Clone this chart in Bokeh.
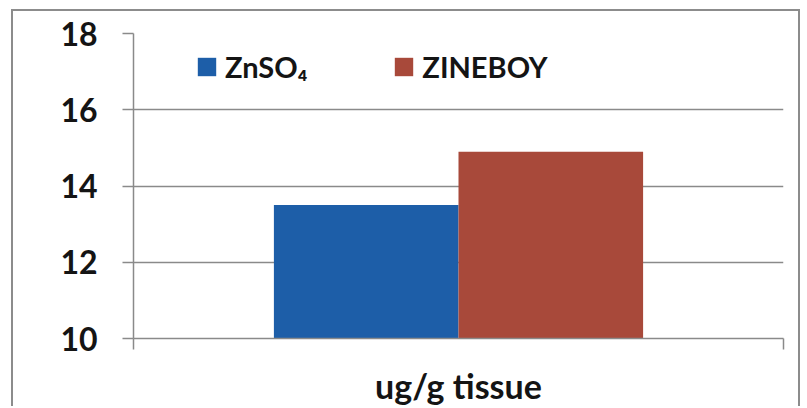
from bokeh.plotting import figure
from bokeh.models import (FactorRange, Range1d, LinearAxis, CategoricalAxis, FixedTicker,
                          Legend, LegendItem, ColumnDataSource, Grid)
from bokeh.transform import dodge
from bokeh.embed import file_html
from bokeh.resources import INLINE

categories = ["ug/g tissue"]
series = ["ZnSO₄", "ZINEBOY"]
znso4 = [13.5]
zineboy = [14.9]
y_ticks = [10, 12, 14, 16, 18]

FONT = "Lato"
TEXT = "#141414"
GRID = "#8a8a8a"
COLORS = ["#1d5ea8", "#a8493a"]

p = figure(width=789, height=397,
           x_range=FactorRange(factors=categories),
           y_range=Range1d(10, 18),
           output_backend="svg", toolbar_location=None,
           x_axis_location=None, y_axis_location=None,
           min_border_left=120, min_border_right=19,
           min_border_top=22, min_border_bottom=70,
           background_fill_color="white", border_fill_color="white")
p.outline_line_color = None
p.margin = (9, 0, 0, 11)
p.styles = {"border-left": "2px solid #8c8c8c", "border-top": "2px solid #8c8c8c",
            "border-right": "2px solid #8c8c8c"}
p.center = [r for r in p.center if not isinstance(r, Grid)]

src = ColumnDataSource(dict(cat=categories, zn=znso4, zb=zineboy))
r1 = p.vbar(x=dodge("cat", -0.142, range=p.x_range), top="zn", width=0.284,
            source=src, fill_color=COLORS[0], line_color=None)
r2 = p.vbar(x=dodge("cat", 0.142, range=p.x_range), top="zb", width=0.284,
            source=src, fill_color=COLORS[1], line_color=None)

yaxis = LinearAxis(ticker=FixedTicker(ticks=y_ticks),
                   major_tick_out=11, major_tick_in=0,
                   minor_tick_line_color=None,
                   axis_line_color=GRID, axis_line_width=1.5,
                   major_tick_line_color=GRID, major_tick_line_width=1.5,
                   major_label_standoff=25,
                   major_label_text_font=FONT, major_label_text_font_style="bold",
                   major_label_text_font_size="32px", major_label_text_color=TEXT)
p.add_layout(yaxis, "left")
p.add_layout(Grid(dimension=1, ticker=yaxis.ticker, grid_line_color=GRID,
                  grid_line_width=1.5))

# category-boundary ticks (synthetic coordinates 0 and 1 of the factor range)
edge_axis = LinearAxis(ticker=FixedTicker(ticks=[0, len(categories)]),
                       major_tick_out=11, major_tick_in=0,
                       minor_tick_line_color=None,
                       axis_line_color=GRID, axis_line_width=1.5,
                       major_tick_line_color=GRID, major_tick_line_width=1.5,
                       major_label_overrides={0: "", len(categories): ""},
                       major_label_text_font_size="1px",
                       major_label_standoff=0)
cat_axis = CategoricalAxis(axis_line_color=None, major_tick_line_color=None,
                           major_tick_out=0, major_tick_in=0,
                           major_label_standoff=15,
                           major_label_text_font=FONT, major_label_text_font_style="bold",
                           major_label_text_font_size="34px", major_label_text_color=TEXT)
p.below = [edge_axis, cat_axis]

legend = Legend(items=[LegendItem(label=series[0], renderers=[r1]),
                       LegendItem(label=series[1], renderers=[r2])],
                orientation="horizontal", location=(62, 254),
                border_line_color=None, background_fill_alpha=0,
                label_text_font=FONT, label_text_font_style="bold",
                label_text_font_size="29px", label_text_color=TEXT,
                glyph_width=23, glyph_height=23, label_standoff=7,
                spacing=85, padding=0, margin=0)
p.add_layout(legend)

open("out.html", "w").write(file_html(p, INLINE))
